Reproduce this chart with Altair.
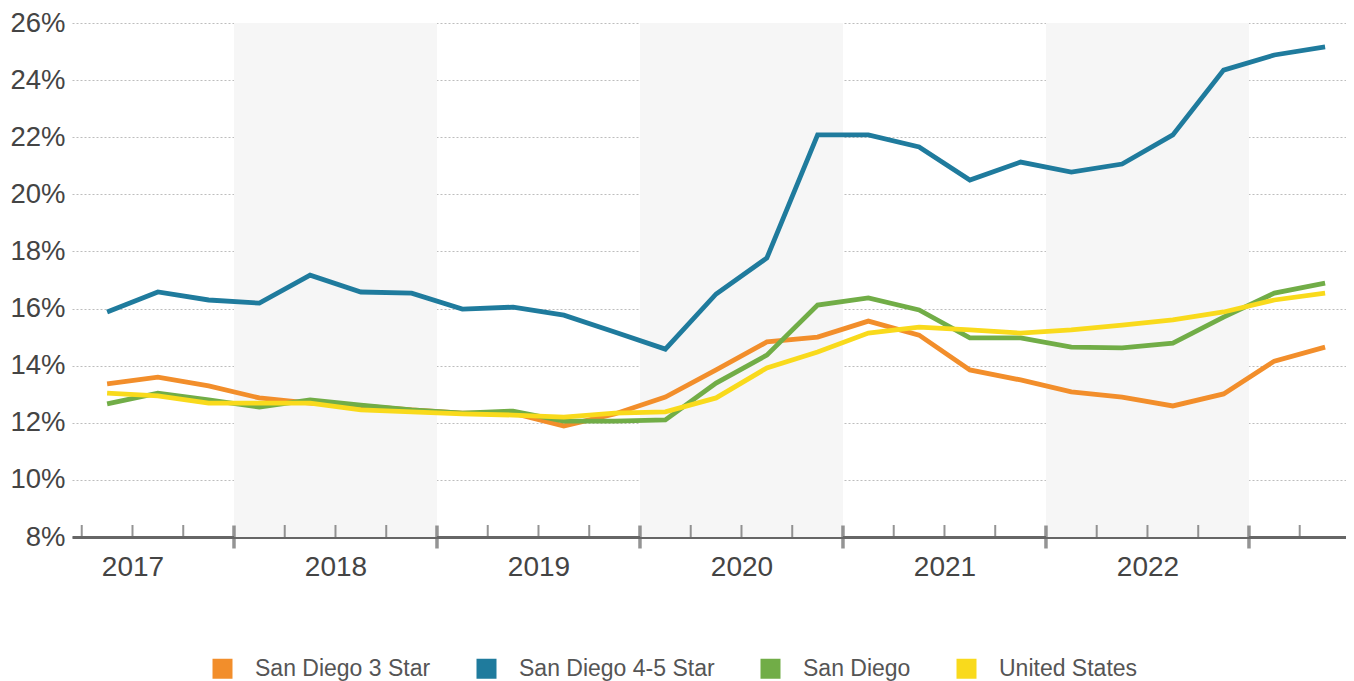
import altair as alt
import pandas as pd

# ---- data ----
quarters = [
    "2017 Q2", "2017 Q3", "2017 Q4",
    "2018 Q1", "2018 Q2", "2018 Q3", "2018 Q4",
    "2019 Q1", "2019 Q2", "2019 Q3", "2019 Q4",
    "2020 Q1", "2020 Q2", "2020 Q3", "2020 Q4",
    "2021 Q1", "2021 Q2", "2021 Q3", "2021 Q4",
    "2022 Q1", "2022 Q2", "2022 Q3", "2022 Q4",
    "2023 Q1", "2023 Q2",
]
sd_3star = [13.36, 13.60, 13.29, 12.87, 12.69, 12.59, 12.45, 12.34, 12.34, 11.89,
            12.31, 12.90, 13.85, 14.83, 15.00, 15.56, 15.07, 13.85, 13.50, 13.08,
            12.90, 12.59, 13.01, 14.16, 14.65]
sd_45star = [15.88, 16.58, 16.30, 16.19, 17.17, 16.58, 16.54, 15.98, 16.05, 15.77,
             15.18, 14.58, 16.51, 17.77, 22.08, 22.08, 21.66, 20.50, 21.13, 20.78,
             21.06, 22.08, 24.35, 24.88, 25.16]
sd_all = [12.66, 13.04, 12.80, 12.55, 12.80, 12.62, 12.45, 12.34, 12.41, 12.06,
          12.06, 12.10, 13.39, 14.37, 16.12, 16.37, 15.95, 14.97, 14.97, 14.65,
          14.62, 14.79, 15.70, 16.54, 16.89]
us_all = [13.04, 12.94, 12.69, 12.69, 12.69, 12.45, 12.38, 12.31, 12.27, 12.20,
          12.34, 12.38, 12.87, 13.92, 14.48, 15.14, 15.35, 15.25, 15.14, 15.25,
          15.42, 15.60, 15.88, 16.30, 16.54]

series_names = ["San Diego 3 Star", "San Diego 4-5 Star", "San Diego", "United States"]
series_values = [sd_3star, sd_45star, sd_all, us_all]
series_colors = ["#F28E2B", "#1F7B9D", "#71AD47", "#F9DA1C"]

shaded_years = [2018, 2020, 2022]
label_years = [2017, 2018, 2019, 2020, 2021, 2022]
y_ticks = [8, 10, 12, 14, 16, 18, 20, 22, 24, 26]
minor_boundaries = ["2017 Q2", "2017 Q3", "2017 Q4",
                    "2018 Q2", "2018 Q3", "2018 Q4",
                    "2019 Q2", "2019 Q3", "2019 Q4",
                    "2020 Q2", "2020 Q3", "2020 Q4",
                    "2021 Q2", "2021 Q3", "2021 Q4",
                    "2022 Q2", "2022 Q3", "2022 Q4",
                    "2023 Q2"]
major_boundaries = [2018, 2019, 2020, 2021, 2022, 2023]


def q_mid(label):
    y, q = label.split(" Q")
    return int(y) + (int(q) - 0.5) / 4


def q_start(label):
    y, q = label.split(" Q")
    return int(y) + (int(q) - 1) / 4


rows = []
for name, vals in zip(series_names, series_values):
    for qlab, v in zip(quarters, vals):
        rows.append({"quarter": qlab, "t": q_mid(qlab), "value": v, "series": name})
df = pd.DataFrame(rows)

bands = pd.DataFrame({"start": shaded_years, "end": [y + 1 for y in shaded_years]})
minor = pd.DataFrame({"t": [q_start(b) for b in minor_boundaries], "base": y_ticks[0]})
major = pd.DataFrame({"t": major_boundaries, "base": y_ticks[0]})

FONT = "Liberation Sans"

xscale = alt.Scale(domain=[2017.202, 2023.478], nice=False, zero=False)
yscale = alt.Scale(domain=[y_ticks[0], y_ticks[-1]], nice=False, zero=False)

x_axis = alt.Axis(
    values=[y + 0.5 for y in label_years],
    labelExpr="toString(floor(datum.value))",
    ticks=False, grid=False, domain=True,
    domainColor="#666666", domainWidth=3,
    labelFontSize=28, labelColor="#444444", labelFont=FONT,
    labelPadding=16, title=None,
)
y_axis = alt.Axis(
    values=y_ticks,
    labelExpr="datum.value + '%'",
    ticks=False, domain=False, grid=True,
    gridColor="#BDBDBD", gridDash=[2, 2], gridWidth=1.2,
    labelFontSize=27.5, labelColor="#444444", labelFont=FONT,
    labelPadding=7, title=None,
)

band_layer = alt.Chart(bands).mark_rect(color="#F6F6F6").encode(
    x=alt.X("start:Q", scale=xscale, axis=x_axis),
    x2="end:Q",
)

line_layer = alt.Chart(df).mark_line(strokeWidth=4.8).encode(
    x=alt.X("t:Q", scale=xscale, axis=x_axis),
    y=alt.Y("value:Q", scale=yscale, axis=y_axis),
    color=alt.Color(
        "series:N",
        scale=alt.Scale(domain=series_names, range=series_colors),
        sort=series_names,
        legend=alt.Legend(
            title=None, orient="none", legendX=139, legendY=634,
            direction="horizontal", columns=4,
            symbolType="square", symbolSize=100, symbolStrokeWidth=10,
            labelFontSize=23, labelColor="#555555", labelFont=FONT,
            labelOffset=21, columnPadding=30, padding=0, labelLimit=0,
        ),
    ),
    order=alt.Order("t:Q"),
)

minor_layer = alt.Chart(minor).mark_tick(
    orient="vertical", size=12, thickness=2, color="#666666", yOffset=-6
).encode(
    x=alt.X("t:Q", scale=xscale, axis=x_axis),
    y=alt.Y("base:Q", scale=yscale, axis=y_axis),
)

major_layer = alt.Chart(major).mark_tick(
    orient="vertical", size=23, thickness=3.5, color="#666666", yOffset=0
).encode(
    x=alt.X("t:Q", scale=xscale, axis=x_axis),
    y=alt.Y("base:Q", scale=yscale, axis=y_axis),
)

chart = alt.layer(band_layer, line_layer, minor_layer, major_layer).properties(
    width=1274,
    height=514,
    autosize=alt.AutoSizeParams(type="none"),
    padding={"left": 64, "top": 15, "right": 0, "bottom": 150},
    background="white",
).configure(font=FONT).configure_view(stroke=None)

chart.save("out.html", embed_options={"renderer": "svg", "actions": False})
